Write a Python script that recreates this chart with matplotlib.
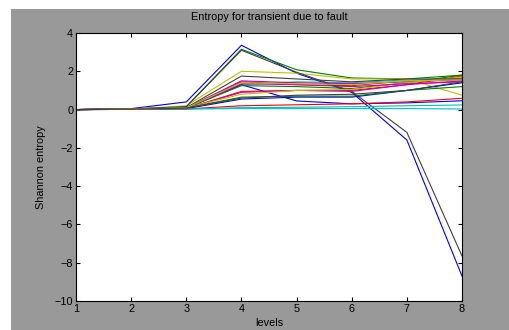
import numpy as np
import matplotlib
matplotlib.use("Agg")
import matplotlib.pyplot as plt
from matplotlib.patches import Rectangle

levels = [1, 2, 3, 4, 5, 6, 7, 8]

# matlab-ish default colour order: b g r c m y k
colors = ['#0000ff', '#008000', '#ff0000', '#00bfbf', '#bf00bf', '#bfbf00', '#404040']

entropy = [
    [0, 0.05, 0.40, 3.36, 1.90, 0.90, -1.59, -8.70],
    [0, 0.03, 0.15, 3.15, 2.08, 1.65, 1.60, 1.80],
    [0, 0.02, 0.08, 1.45, 1.30, 1.25, 1.50, 1.65],
    [0, 0.02, 0.05, 1.30, 1.45, 1.40, 1.55, 1.60],
    [0, 0.02, 0.08, 1.50, 1.40, 1.35, 1.45, 1.55],
    [0, 0.03, 0.20, 2.00, 1.90, 1.60, 1.60, 0.75],
    [0, 0.03, 0.15, 3.10, 1.95, 0.95, -1.19, -7.65],
    [0, 0.02, 0.10, 1.30, 0.45, 0.30, 0.35, 0.46],
    [0, 0.02, 0.08, 1.25, 1.20, 1.10, 1.40, 1.80],
    [0, 0.02, 0.06, 0.95, 1.00, 1.00, 1.30, 1.75],
    [0, 0.01, 0.03, 0.05, 0.05, 0.05, 0.05, 0.03],
    [0, 0.02, 0.06, 0.90, 1.00, 0.95, 1.30, 1.50],
    [0, 0.02, 0.10, 0.80, 1.00, 1.05, 1.40, 1.70],
    [0, 0.02, 0.10, 1.75, 1.60, 1.45, 1.60, 1.60],
    [0, 0.01, 0.05, 0.55, 0.65, 0.65, 1.00, 1.40],
    [0, 0.02, 0.08, 0.65, 0.70, 0.70, 1.00, 1.20],
    [0, 0.01, 0.03, 0.20, 0.25, 0.30, 0.40, 0.59],
    [0, 0.01, 0.03, 0.10, 0.12, 0.15, 0.20, 0.24],
    [0, 0.02, 0.07, 1.35, 1.30, 1.20, 1.35, 1.45],
    [0, 0.02, 0.09, 1.40, 1.35, 1.30, 1.50, 1.55],
    [0, 0.02, 0.08, 0.60, 0.75, 0.80, 1.00, 1.45],
]

plt.rcParams['font.family'] = ['Liberation Sans', 'DejaVu Sans']
plt.rcParams['font.size'] = 7.8

fig = plt.figure(figsize=(5.09, 3.30), dpi=100, facecolor='white')
fig.patches.append(Rectangle((11 / 509, 0), 1, 1 - 9 / 330, transform=fig.transFigure,
                             facecolor='#999999', edgecolor='none', zorder=-1))

ax = fig.add_axes([76 / 509, 1 - 301 / 330, 386 / 509, 268 / 330])
for i, vals in enumerate(entropy):
    ax.plot(levels, vals, color=colors[i % len(colors)], lw=0.8)

ax.set_xlim(1, 8)
ax.set_ylim(-10, 4)
ax.set_xticks(levels)
ax.set_yticks(np.arange(-10, 5, 2))
ax.tick_params(direction='in', length=3, width=0.8, top=True, right=True, pad=2, colors='black')
for s in ax.spines.values():
    s.set_linewidth(0.8)

ax.set_title('Entropy for transient due to fault', fontsize=7.8, pad=9)
ax.set_xlabel('levels', labelpad=3)
ax.set_ylabel('Shannon entropy', labelpad=6)

fig.savefig('out.png', dpi=100, facecolor=fig.get_facecolor())
